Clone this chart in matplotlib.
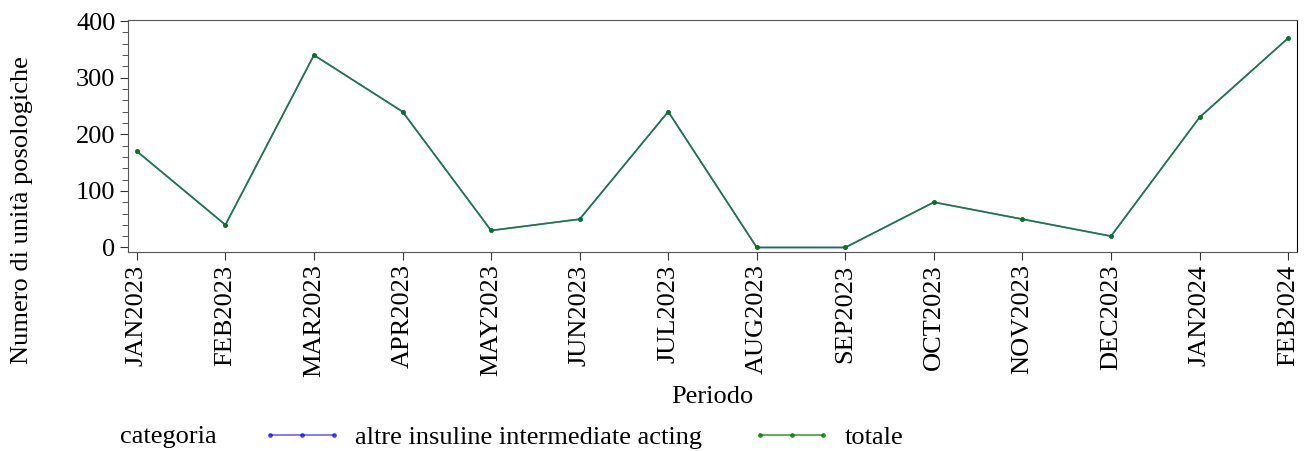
import matplotlib
matplotlib.use("Agg")
import matplotlib.pyplot as plt
from matplotlib.ticker import MultipleLocator

plt.rcParams["font.family"] = ["Liberation Serif", "DejaVu Serif"]

periodi = ["JAN2023", "FEB2023", "MAR2023", "APR2023", "MAY2023", "JUN2023", "JUL2023",
           "AUG2023", "SEP2023", "OCT2023", "NOV2023", "DEC2023", "JAN2024", "FEB2024"]
altre_insuline = [170, 40, 340, 240, 30, 50, 240, 0, 0, 80, 50, 20, 230, 370]
totale = [170, 40, 340, 240, 30, 50, 240, 0, 0, 80, 50, 20, 230, 370]

fs = 19
fig = plt.figure(figsize=(13.1, 4.51), dpi=100)
ax = fig.add_axes([128 / 1310, 1 - 252 / 451, (1297 - 128) / 1310, (252 - 20) / 451])

x = range(len(periodi))
ax.plot(x, altre_insuline, color="#0000ff", lw=1.2, alpha=0.6, marker="o", ms=2.5,
        mfc="#0000ff", mec="#0000ff", label="altre insuline intermediate acting")
ax.plot(x, totale, color="#008000", lw=1.2, alpha=0.75, marker="o", ms=2.5,
        mfc="#008000", mec="#008000", label="totale")

ax.set_xlim(-0.1, len(periodi) - 1 + 0.1)
ax.set_ylim(-8, 402)
ax.set_xticks(list(x))
ax.set_xticklabels(periodi, rotation=90, fontsize=fs)
ax.yaxis.set_major_locator(MultipleLocator(100))
ax.yaxis.set_minor_locator(MultipleLocator(20))
ax.tick_params(axis="y", labelsize=fs)
ax.tick_params(which="major", length=6, color="#333333", pad=3)
ax.tick_params(which="minor", length=4, color="#333333")
for s in ax.spines.values():
    s.set_color("#555555")
ax.spines["right"].set_color("black")

ax.set_xlabel("Periodo", fontsize=fs)
ax.set_ylabel("Numero di unità posologiche", fontsize=fs)
ax.xaxis.set_label_coords(0.5, (252 - 397) / 232, transform=ax.transAxes)
ax.yaxis.set_label_coords((22 - 128) / 1169, 0.5 - (210 - 136) / 232, transform=ax.transAxes)
ax.xaxis.label.set_va("center")
ax.yaxis.label.set_va("center")

fig.text(120 / 1310, 1 - 437 / 451, "categoria", fontsize=fs, va="center")
fig.legend(loc="center left", bbox_to_anchor=(252 / 1310, 1 - 437 / 451), ncol=2,
           frameon=False, fontsize=fs, columnspacing=1.9, handlelength=3.0,
           handletextpad=0.5, numpoints=3, borderaxespad=0)

fig.savefig("out.png", dpi=100)
